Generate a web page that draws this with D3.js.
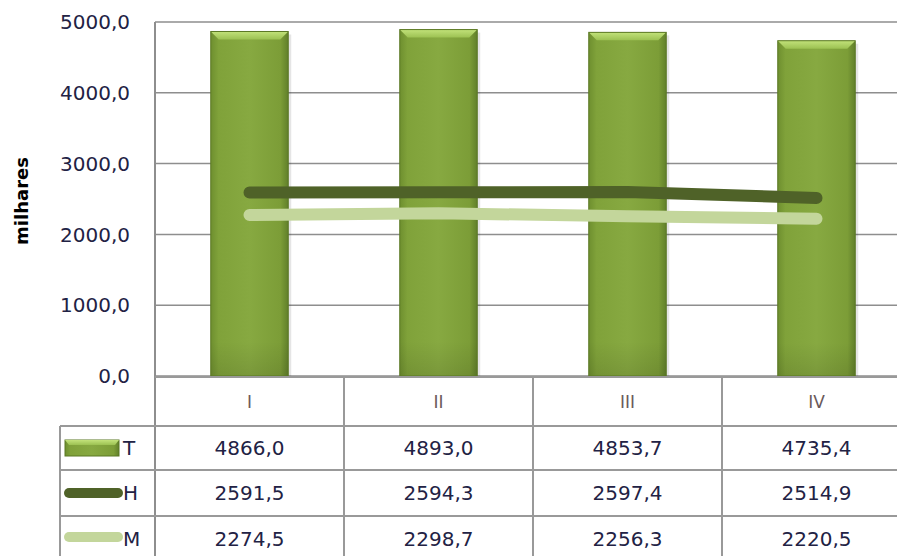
<!DOCTYPE html>
<html><head><meta charset="utf-8">
<script src="https://cdn.jsdelivr.net/npm/d3@7"></script>
<style>body{margin:0;background:#fff;}svg{display:block;font-family:"DejaVu Sans",Verdana,sans-serif;}</style>
</head><body>
<svg id="c" width="897" height="556"></svg>
<script>
const categories = ["I", "II", "III", "IV"];
const seriesNames = ["T", "H", "M"];
const valuesT = [4866.0, 4893.0, 4853.7, 4735.4];
const valuesH = [2591.5, 2594.3, 2597.4, 2514.9];
const valuesM = [2274.5, 2298.7, 2256.3, 2220.5];
const yTicks = [0, 1000, 2000, 3000, 4000, 5000];
const yTitle = "milhares";

const svg = d3.select("#c");
const fmt = v => d3.format(".1f")(v).replace(".", ",");

const plotL = 155, plotR = 911, plotT = 22, plotB = 376;
const x = d3.scaleBand().domain(categories).range([plotL, plotR]).padding(0);
const y = d3.scaleLinear().domain([0, 5000]).range([plotB, plotT]);
const cx = c => x(c) + x.bandwidth() / 2;
const barW = x.bandwidth() * 0.41;

const defs = svg.append("defs");
const g1 = defs.append("linearGradient").attr("id", "barG").attr("x1", "0").attr("x2", "1").attr("y1", "0").attr("y2", "0");
[[0, "#6e8f2f"], [0.1, "#80a23a"], [0.5, "#87a941"], [0.9, "#7c9d37"], [1, "#61802a"]].forEach(([o, c]) => g1.append("stop").attr("offset", o).attr("stop-color", c));
const g2 = defs.append("linearGradient").attr("id", "barV").attr("x1", "0").attr("x2", "0").attr("y1", "0").attr("y2", "1");
[[0, "#000", 0], [0.9, "#000", 0], [1, "#000", 0.1]].forEach(([o, c, op]) => g2.append("stop").attr("offset", o).attr("stop-color", c).attr("stop-opacity", op));
const g3 = defs.append("linearGradient").attr("id", "bevel").attr("x1", "0").attr("x2", "0").attr("y1", "0").attr("y2", "1");
[[0, "#c2e27a"], [1, "#9cc152"]].forEach(([o, c]) => g3.append("stop").attr("offset", o).attr("stop-color", c));

// gridlines
svg.append("g").selectAll("line").data(yTicks).join("line")
  .attr("x1", plotL).attr("x2", plotR).attr("y1", d => y(d)).attr("y2", d => y(d))
  .attr("stroke", "#8e8e8e").attr("stroke-width", 1.5);
svg.append("line").attr("x1", plotL).attr("x2", plotL).attr("y1", plotT).attr("y2", 556)
  .attr("stroke", "#8e8e8e").attr("stroke-width", 2);

// y axis labels
svg.append("g").selectAll("text").data(yTicks).join("text")
  .attr("x", 130).attr("y", d => y(d)).attr("dy", "0.36em").attr("text-anchor", "end")
  .attr("font-size", 20).attr("fill", "#222244").text(d => fmt(d));
svg.append("text").attr("transform", "translate(28,201) rotate(-90)").attr("text-anchor", "middle")
  .attr("font-size", 18).attr("font-weight", "bold").attr("fill", "#000").text(yTitle);

// bars
const bars = svg.append("g").selectAll("g").data(categories.map((c, i) => ({c, v: valuesT[i]}))).join("g");
bars.append("rect").attr("x", d => cx(d.c) - barW / 2 + 3).attr("y", d => y(d.v) + 3)
  .attr("width", barW).attr("height", d => plotB - y(d.v) - 3).attr("fill", "#000").attr("opacity", 0.1);
bars.append("rect").attr("x", d => cx(d.c) - barW / 2).attr("y", d => y(d.v))
  .attr("width", barW).attr("height", d => plotB - y(d.v)).attr("fill", "url(#barG)");
bars.append("rect").attr("x", d => cx(d.c) - barW / 2).attr("y", d => y(d.v))
  .attr("width", barW).attr("height", d => plotB - y(d.v)).attr("fill", "url(#barV)");
bars.append("polygon").attr("points", d => {
  const l = cx(d.c) - barW / 2, r = cx(d.c) + barW / 2, t = y(d.v), b = 8;
  return `${l},${t} ${r},${t} ${r - b},${t + b} ${l + b},${t + b}`;
}).attr("fill", "url(#bevel)");
bars.append("rect").attr("x", d => cx(d.c) - barW / 2).attr("y", d => y(d.v))
  .attr("width", barW).attr("height", d => plotB - y(d.v)).attr("fill", "none")
  .attr("stroke", "#5b7824").attr("stroke-width", 1);

// lines
const line = d3.line().x(d => cx(d.c)).y(d => y(d.v));
[[valuesH, "#4f6228"], [valuesM, "#c3d69b"]].forEach(([vals, col]) => {
  svg.append("path").datum(categories.map((c, i) => ({c, v: vals[i]})))
    .attr("d", line).attr("fill", "none").attr("stroke", col).attr("stroke-width", 12)
    .attr("stroke-linecap", "round").attr("stroke-linejoin", "round");
});

// data table
const rowsY = [377, 426, 470, 516, 562];
const tbl = svg.append("g").attr("stroke", "#999").attr("stroke-width", 2);
rowsY.forEach((ry, i) => {
  tbl.append("line").attr("x1", i === 0 ? plotL : 60).attr("x2", plotR).attr("y1", ry).attr("y2", ry);
});
categories.forEach(c => {
  tbl.append("line").attr("x1", x(c) + x.bandwidth()).attr("x2", x(c) + x.bandwidth()).attr("y1", rowsY[0]).attr("y2", 556);
});
tbl.append("line").attr("x1", 60).attr("x2", 60).attr("y1", rowsY[1]).attr("y2", 556);

svg.append("g").selectAll("text").data(categories).join("text")
  .attr("x", d => cx(d)).attr("y", (rowsY[0] + rowsY[1]) / 2).attr("dy", "0.36em")
  .attr("text-anchor", "middle").attr("font-size", 17).attr("fill", "#6a5a5a").text(d => d);

const allVals = [valuesT, valuesH, valuesM];
allVals.forEach((vals, r) => {
  const my = (rowsY[r + 1] + rowsY[r + 2]) / 2;
  svg.append("g").selectAll("text").data(categories.map((c, i) => ({c, v: vals[i]}))).join("text")
    .attr("x", d => cx(d.c)).attr("y", my).attr("dy", "0.36em").attr("text-anchor", "middle")
    .attr("font-size", 20).attr("fill", "#222244").text(d => fmt(d.v));
  svg.append("text").attr("x", 123).attr("y", my).attr("dy", "0.36em")
    .attr("font-size", 20).attr("fill", "#222244").text(seriesNames[r]);
});

// legend keys
const ty = (rowsY[1] + rowsY[2]) / 2;
svg.append("rect").attr("x", 65).attr("y", ty - 8).attr("width", 54).attr("height", 16).attr("fill", "url(#barG)").attr("stroke", "#5b7824");
svg.append("polygon").attr("points", `65,${ty - 8} 119,${ty - 8} 115,${ty - 3} 69,${ty - 3}`).attr("fill", "url(#bevel)");
const hy = (rowsY[2] + rowsY[3]) / 2, my2 = (rowsY[3] + rowsY[4]) / 2 - 2;
svg.append("line").attr("x1", 69).attr("x2", 118).attr("y1", hy).attr("y2", hy).attr("stroke", "#4f6228").attr("stroke-width", 10).attr("stroke-linecap", "round");
svg.append("line").attr("x1", 69).attr("x2", 118).attr("y1", my2).attr("y2", my2).attr("stroke", "#c3d69b").attr("stroke-width", 10).attr("stroke-linecap", "round");
</script>
</body></html>
